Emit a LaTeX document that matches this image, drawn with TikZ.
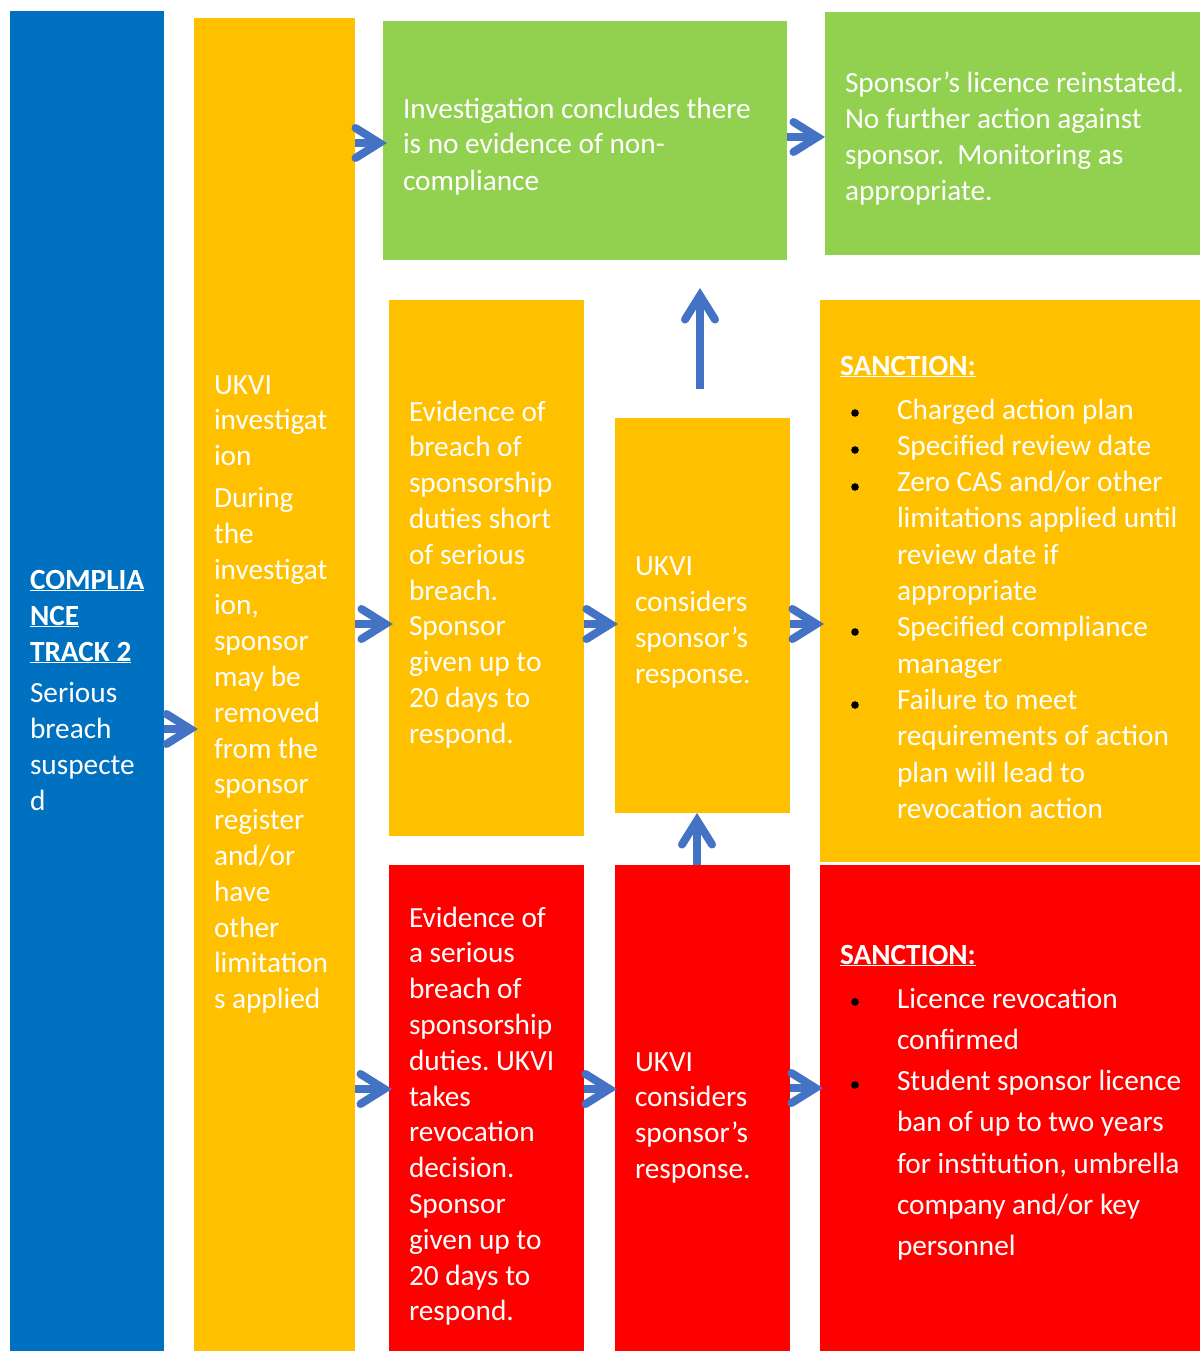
\documentclass[tikz,border=0pt]{standalone}
\usepackage{fontspec}
\setmainfont{Carlito}
\usetikzlibrary{arrows.meta}
\definecolor{cblue}{HTML}{0070C0}
\definecolor{cyellow}{HTML}{FFC000}
\definecolor{cgreen}{HTML}{92D050}
\definecolor{cred}{HTML}{FF0000}
\definecolor{carrow}{HTML}{4472C4}
\newcommand{\fstrut}{\rule{0pt}{26pt}}
\newcommand{\hd}[1]{\textbf{\underline{#1}}}
\frenchspacing
\begin{document}
\begin{tikzpicture}[x=1pt,y=-1pt,
  box/.style={draw=none, anchor=north west, inner sep=0pt, outer sep=0pt, rectangle},
  txt/.style={anchor=north west, inner sep=0pt, outer sep=0pt, text=white, align=left},
  arr/.style={draw=carrow, line width=8pt, -{Straight Barb[length=24pt,width=30pt,line cap=round,line join=miter]}},
  bul/.style={fill=black}
]
\useasboundingbox (0,0) rectangle (1200,1351);
% boxes
\node[box, fill=cblue, minimum width=154pt, minimum height=1340pt] (blue) at (10,11) {};
\node[box, fill=cyellow, minimum width=161pt, minimum height=1333pt] (ytall) at (194,18) {};
\node[box, fill=cgreen, minimum width=404pt, minimum height=239pt] (green1) at (383,21) {};
\node[box, fill=cgreen, minimum width=375pt, minimum height=243pt] (green2) at (825,12) {};
\node[box, fill=cyellow, minimum width=195pt, minimum height=536pt] (mid1) at (389,300) {};
\node[box, fill=cyellow, minimum width=175pt, minimum height=395pt] (mid2) at (615,418) {};
\node[box, fill=cyellow, minimum width=380pt, minimum height=562pt] (ysanc) at (820,300) {};
\node[box, fill=cred, minimum width=195pt, minimum height=486pt] (red1) at (389,865) {};
\node[box, fill=cred, minimum width=175pt, minimum height=486pt] (red2) at (615,865) {};
\node[box, fill=cred, minimum width=380pt, minimum height=486pt] (rsanc) at (820,865) {};
% texts
\node[txt, font=\fontsize{29.3}{36}\selectfont] (bluetxt) at (30,563)
 {\fstrut\hd{COMPLIA}\\\hd{NCE}\\\hd{TRACK 2}\\[5pt]Serious\\breach\\suspecte\\d};
\node[txt, font=\fontsize{29.3}{35.8}\selectfont] (ytalltxt) at (214,368)
 {\fstrut UKVI\\investigat\\ion\\[6pt]During\\the\\investigat\\ion,\\sponsor\\may be\\removed\\from the\\sponsor\\register\\and/or\\have\\other\\limitation\\s applied};
\node[txt, font=\fontsize{29.3}{36}\selectfont] (green1txt) at (403,92)
 {\fstrut Investigation concludes there\\is no evidence of non-\\compliance};
\node[txt, font=\fontsize{29.3}{35.7}\selectfont] (green2txt) at (845,67)
 {\fstrut Sponsor’s licence reinstated.\\No further action against\\sponsor.\ \ Monitoring as\\appropriate.};
\node[txt, font=\fontsize{29.3}{35.8}\selectfont] (mid1txt) at (409,395)
 {\fstrut Evidence of\\breach of\\sponsorship\\duties short\\of serious\\breach.\\Sponsor\\given up to\\20 days to\\respond.};
\node[txt, font=\fontsize{29.3}{36}\selectfont] (mid2txt) at (635,549)
 {\fstrut UKVI\\considers\\sponsor’s\\response.};
\node[txt, font=\fontsize{29.3}{35.8}\selectfont] (red1txt) at (409,901)
 {\fstrut Evidence of\\a serious\\breach of\\sponsorship\\duties. UKVI\\takes\\revocation\\decision.\\Sponsor\\given up to\\20 days to\\respond.};
\node[txt, font=\fontsize{29.3}{35.7}\selectfont] (red2txt) at (635,1045)
 {\fstrut UKVI\\considers\\sponsor’s\\response.};
\node[txt, font=\fontsize{29.3}{36}\selectfont] (ysanchd) at (840,349) {\fstrut\hd{SANCTION:}};
\node[txt, font=\fontsize{29.3}{36.3}\selectfont] (ysanctxt) at (897,393)
 {\fstrut Charged action plan\\Specified review date\\Zero CAS and/or other\\limitations applied until\\review date if\\appropriate\\Specified compliance\\manager\\Failure to meet\\requirements of action\\plan will lead to\\revocation action};
\node[txt, font=\fontsize{29.3}{36}\selectfont] (rsanchd) at (840,938) {\fstrut\hd{SANCTION:}};
\node[txt, font=\fontsize{29.3}{41.3}\selectfont] (rsanctxt) at (897,982)
 {\fstrut Licence revocation\\confirmed\\Student sponsor licence\\ban of up to two years\\for institution, umbrella\\company and/or key\\personnel};
% bullets
\foreach \yy in {413,450,487,632,705,1002,1085} \fill[bul] (855,\yy) circle (3.8pt);
% arrows
\draw[arr, shorten >=-4pt] (blue.east |- 0,729) -- (ytall.west |- 0,729);
\draw[arr, shorten >=-4pt] (ytall.east |- 0,143) -- (green1.west |- 0,143);
\draw[arr, shorten >=-4pt] (ytall.east |- 0,624) -- (mid1.west |- 0,624);
\draw[arr, shorten >=-3pt] (ytall.east |- 0,1089) -- (red1.west |- 0,1089);
\draw[arr, shorten >=-3pt] (mid1.east |- 0,624) -- (mid2.west |- 0,624);
\draw[arr, shorten >=-4pt] (mid2.east |- 0,624) -- (ysanc.west |- 0,624);
\draw[arr, shorten >=-2pt] (red1.east |- 0,1089) -- (red2.west |- 0,1089);
\draw[arr, shorten >=-3pt] (red2.east |- 0,1088) -- (rsanc.west |- 0,1088);
\draw[arr] (green1.east |- 0,137) -- (green2.west |- 0,137);
\draw[arr, shorten <=29pt, shorten >=28pt] (mid2.north -| 700,0) -- (green1.south -| 700,0);
\draw[arr] (red2.north -| 697,0) -- (mid2.south -| 697,0);
\end{tikzpicture}
\end{document}
